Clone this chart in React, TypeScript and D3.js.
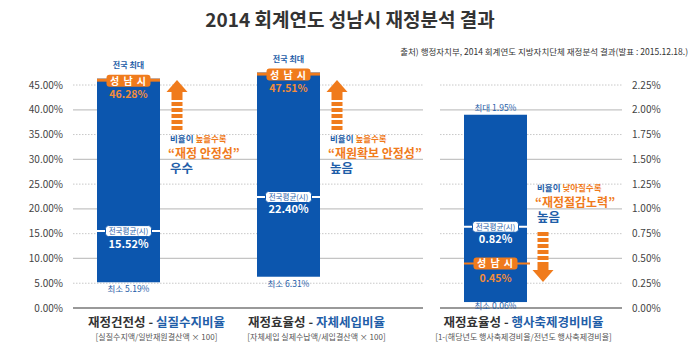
import React from "react";
import * as d3 from "d3";

const categories = ["재정건전성", "재정효율성", "재정효율성"];
const indicators = ["실질수지비율", "자체세입비율", "행사축제경비비율"];
const formulas = [
  "[실질수지액/일반재원결산액 × 100]",
  "[자체세입 실제수납액/세입결산액  × 100]",
  "[1-(해당년도 행사축제경비율/전년도 행사축제경비율]",
];
const maxVals = [46.28, 47.51, 1.95];
const minVals = [5.19, 6.31, 0.06];
const avgVals = [15.52, 22.4, 0.82];
const seongnamVals = [46.28, 47.51, 0.45];
const leftTicks = [0, 5, 10, 15, 20, 25, 30, 35, 40, 45];
const rightTicks = [0, 0.25, 0.5, 0.75, 1.0, 1.25, 1.5, 1.75, 2.0, 2.25];
const arrowTexts = [
  { pre: "비율이 ", key: "높을수록", quote: "“재정 안정성”", result: "우수", dir: "up" },
  { pre: "비율이 ", key: "높을수록", quote: "“재원확보 안정성”", result: "높음", dir: "up" },
  { pre: "비율이 ", key: "낮아질수록", quote: "“재정절감노력”", result: "높음", dir: "down" },
];

const BLUE = "#0c56ae";
const TBLUE = "#1f5ea8";
const ORANGE = "#f07b1c";
const FONT = "'Noto Sans CJK KR', 'Noto Sans', sans-serif";

export default function App() {
  const yL = d3.scaleLinear().domain([0, 45]).range([308, 85]);
  const yR = d3.scaleLinear().domain([0, 2.25]).range([308, 85]);
  const scales = [yL, yL, yR];
  const xCenter = d3.scaleOrdinal<number, number>().domain([0, 1, 2]).range([128.5, 288.5, 495.5]);
  const barW = 63;
  const gridSegs = [
    [73, 423],
    [440, 622],
  ];
  const arrowX = [177, 337, 543];
  const textX = [170, 330, 537];

  const fmt = (v: number) => v.toFixed(2) + "%";

  return (
    <svg width={700} height={350} style={{ display: "block", position: "absolute", left: 0, top: 0, background: "#fff" }} fontFamily={FONT}>
      <rect width={700} height={350} fill="#fff" />
      <text x={350} y={27} textAnchor="middle" fontSize={19} fontWeight={700} fill="#333">
        2014 회계연도 성남시 재정분석 결과
      </text>
      <text x={688} y={55} textAnchor="end" fontSize={8.5} fill="#333">
        출처) 행정자치부, 2014 회계연도 지방자치단체 재정분석 결과(발표 : 2015.12.18.)
      </text>

      {/* gridlines */}
      {leftTicks.map((t, i) => {
        const y = yL(t);
        const solid = i % 2 === 0;
        return gridSegs.map((s, j) => (
          <line
            key={`g${i}-${j}`}
            x1={s[0]}
            x2={s[1]}
            y1={y}
            y2={y}
            stroke={i === 0 ? "#999" : solid ? "#c4c4c4" : "#c8c8c8"}
            strokeWidth={i === 0 ? 2 : solid ? 1.3 : 1}
            strokeDasharray={solid ? undefined : "1.5,1.5"}
          />
        ));
      })}
      {leftTicks.map((t) => (
        <text key={`lt${t}`} x={63} y={yL(t) + 3.5} textAnchor="end" fontSize={10} fill="#444">
          {t.toFixed(2)}%
        </text>
      ))}
      {rightTicks.map((t) => (
        <text key={`rt${t}`} x={632} y={yR(t) + 3.5} textAnchor="start" fontSize={10} fill="#444">
          {t.toFixed(2)}%
        </text>
      ))}

      {categories.map((c, i) => {
        const y = scales[i];
        const cx = xCenter(i);
        const x0 = cx - barW / 2;
        const top = y(maxVals[i]);
        const bot = y(minVals[i]);
        const avgY = y(avgVals[i]);
        const snY = y(seongnamVals[i]);
        const snAtTop = seongnamVals[i] === maxVals[i];
        return (
          <g key={`bar${i}`}>
            <rect x={x0} y={top} width={barW} height={bot - top} fill={BLUE} />
            {snAtTop ? (
              <>
                <rect x={x0} y={top} width={barW} height={3} fill={ORANGE} />
                <text x={cx} y={top - 11} textAnchor="middle" fontSize={8} fontWeight={700} fill={TBLUE}>
                  전국 최대
                </text>
              </>
            ) : (
              <>
                <text x={cx} y={top - 4} textAnchor="middle" fontSize={8.5} fill={TBLUE}>
                  최대 {fmt(maxVals[i])}
                </text>
                <line x1={x0} x2={x0 + barW + 3} y1={snY} y2={snY} stroke={ORANGE} strokeWidth={2} />
              </>
            )}
            {/* seongnam label */}
            <rect x={cx - 22} y={snY - 6 + (snAtTop ? 2 : 0)} width={44} height={12} rx={3} fill={ORANGE} />
            <text x={cx} y={snY + 4 + (snAtTop ? 2 : 0)} textAnchor="middle" fontSize={10} fontWeight={700} fill="#fff" letterSpacing={1}>
              성 남 시
            </text>
            <text x={cx} y={snY + 19} textAnchor="middle" fontSize={10.5} fontWeight={700} fill="#f28c3a">
              {fmt(seongnamVals[i])}
            </text>
            {/* national average */}
            <line x1={x0} x2={x0 + barW} y1={avgY} y2={avgY} stroke="#fff" strokeWidth={2} />
            <rect x={cx - 23} y={avgY - 5.5} width={46} height={11} rx={3} fill="#fff" stroke={BLUE} strokeWidth={1} />
            <text x={cx} y={avgY + 3} textAnchor="middle" fontSize={7.5} fill={TBLUE}>
              전국평균(시)
            </text>
            <text x={cx} y={avgY + 16.5} textAnchor="middle" fontSize={11} fontWeight={700} fill="#fff">
              {fmt(avgVals[i])}
            </text>
            {/* min */}
            <text x={cx} y={Math.min(bot + 10, 308.5)} textAnchor="middle" fontSize={8.5} fill={TBLUE}>
              최소 {fmt(minVals[i])}
            </text>
            {/* category labels */}
            <text x={cx + 28} y={327} textAnchor="middle" fontSize={12.5} fontWeight={700} fill="#333">
              {c} - <tspan fill={TBLUE}>{indicators[i]}</tspan>
            </text>
            <text x={cx + 28} y={340} textAnchor="middle" fontSize={8} fill="#555">
              {formulas[i]}
            </text>
          </g>
        );
      })}

      {/* arrows and annotations */}
      {arrowTexts.map((a, i) => {
        const ax = arrowX[i];
        const up = a.dir === "up";
        const headTip = up ? 80 : 282;
        const headBase = up ? 92 : 270;
        const stemStart = up ? 92 : 270;
        const stemEnd = up ? 133 : 228;
        const stripes: number[] = [];
        const len = Math.abs(stemEnd - stemStart);
        for (let k = 0; k < len; k += 6) stripes.push(k);
        const ty = up ? [142, 157.5, 173] : [191, 206.5, 222];
        return (
          <g key={`ar${i}`}>
            <path d={`M${ax},${headTip} L${ax + 10.5},${headBase} L${ax - 10.5},${headBase} Z`} fill={ORANGE} />
            {up ? (
              <rect x={ax - 5.5} y={stemStart - 1} width={11} height={9} fill={ORANGE} />
            ) : (
              <rect x={ax - 5.5} y={stemStart - 8} width={11} height={9} fill={ORANGE} />
            )}
            {stripes.map((k) => {
              const h = 4;
              const yy = up ? stemStart + 10 + k : stemStart - 10 - k - h;
              if (up && yy + h > stemEnd) return null;
              if (!up && yy < stemEnd) return null;
              return <rect key={k} x={ax - 5.5} y={yy} width={11} height={h} fill={ORANGE} />;
            })}
            <text x={textX[i]} y={ty[0]} fontSize={8.5} fontWeight={700} fill={TBLUE}>
              {a.pre}
              <tspan fill={ORANGE}>{a.key}</tspan>
            </text>
            <text x={textX[i] - 2} y={ty[1]} fontSize={12} fontWeight={700} fill={ORANGE}>
              {a.quote}
            </text>
            <text x={textX[i]} y={ty[2]} fontSize={12.5} fontWeight={700} fill={TBLUE}>
              {a.result}
            </text>
          </g>
        );
      })}
    </svg>
  );
}
